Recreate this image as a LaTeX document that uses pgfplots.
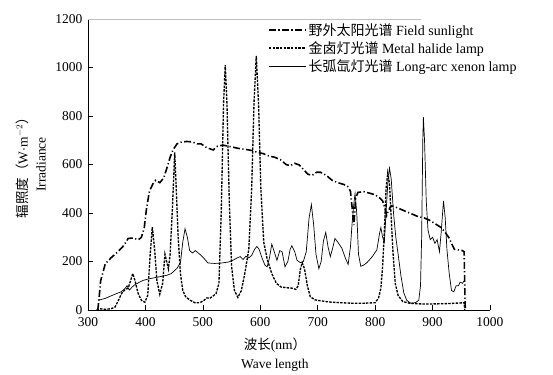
\documentclass[border=0pt]{standalone}
\usepackage{pgfplots}
\pgfplotsset{compat=1.18}
\usepackage{fontspec}
\setmainfont{Liberation Serif}
\newfontfamily\cjk{Noto Sans CJK SC}

% Spectral irradiance of the three light sources (nm, W m^-2)
\pgfplotstableread{
x y
317 0
319 40
322 120
330 190
340 215
352 240
362 265
370 295
378 297
388 290
393 300
398 340
402 420
407 490
413 520
418 535
425 525
432 545
438 590
443 630
448 660
455 685
462 692
472 695
482 693
490 685
497 685
505 672
512 665
518 660
525 675
535 680
545 675
555 670
565 665
575 662
585 658
595 650
605 645
615 635
625 630
635 620
645 600
652 595
660 605
668 598
675 580
683 560
690 555
698 568
705 568
715 555
725 535
735 525
745 518
752 510
757 490
760 420
763 350
766 460
770 485
780 488
790 482
800 475
808 462
813 450
817 420
820 390
823 410
828 430
835 425
845 415
855 405
865 395
875 385
885 380
895 370
905 355
915 340
922 320
928 300
934 270
938 250
945 248
952 245
955 240
956 100
957 0
}\sunlight

\pgfplotstableread{
x y
315 0
320 5
330 3
340 5
347 12
353 40
359 70
365 85
370 90
374 120
378 150
382 120
387 70
393 40
399 32
404 60
408 220
412 342
416 250
420 120
425 65
430 110
434 230
437 200
440 170
443 230
447 420
451 650
454 480
457 300
461 150
465 80
470 55
478 40
486 30
495 30
502 40
507 50
512 48
518 58
523 68
528 110
532 400
536 850
539 1010
542 850
546 450
550 180
555 80
561 52
567 80
573 150
580 250
585 500
589 850
593 1048
597 850
601 500
606 280
612 210
620 150
628 110
636 95
645 92
655 90
662 85
666 100
670 170
673 195
677 170
682 100
687 55
695 42
705 38
720 33
740 30
760 28
780 28
800 30
806 50
810 90
813 180
816 320
819 500
822 565
825 520
828 380
831 240
835 110
840 60
848 35
860 28
880 25
900 25
920 26
940 28
955 30
956 0
}\halide

\pgfplotstableread{
x y
318 40
330 48
340 58
350 68
358 75
365 90
368 100
372 82
377 95
382 105
390 115
396 122
405 128
420 135
437 143
445 150
455 172
461 195
465 280
469 335
473 300
477 245
482 235
487 245
492 235
497 225
503 210
509 194
520 192
530 193
545 198
553 206
560 215
565 220
570 208
575 222
580 215
585 225
590 250
594 262
598 250
603 215
608 185
612 178
616 215
620 272
625 235
629 205
634 245
638 240
643 178
648 200
652 250
655 265
660 240
664 205
670 195
675 200
680 240
685 380
689 435
693 350
697 230
702 170
706 200
710 285
714 320
718 260
722 220
726 255
730 295
735 280
742 255
748 215
753 188
757 260
760 360
763 440
765 480
768 400
771 230
775 180
780 185
786 196
795 220
803 248
808 320
810 340
813 300
816 280
819 400
822 520
825 585
828 540
832 400
836 300
840 230
845 140
850 70
855 40
862 28
870 30
876 40
879 100
881 300
883 700
884 795
886 700
889 450
892 330
896 290
900 300
904 275
908 290
912 240
915 320
919 450
922 380
925 250
929 150
933 80
937 75
941 100
945 100
948 115
952 110
955 120
}\xenon

\begin{document}
\begin{tikzpicture}
\path[use as bounding box] (-88bp,-65bp) rectangle (465bp,310bp);
\begin{axis}[
  at={(0,0)}, anchor=south west,
  scale only axis, width=402bp, height=291bp,
  xmin=300, xmax=1000, ymin=0, ymax=1200,
  axis x line=bottom, axis y line=left,
  axis line style={-, line width=0.6pt},
  xtick={300,400,...,1000}, ytick={0,200,...,1200},
  tick align=inside, major tick length=5bp,
  tick style={line width=0.6pt, black},
  /pgf/number format/assume math mode=true,
  /pgf/number format/set thousands separator={},
  ticklabel style={font=\fontsize{13.5bp}{15bp}\selectfont},
  xticklabel style={yshift=-4bp},
  yticklabel style={xshift=-2bp},
  xlabel={{\cjk 波长}(nm{\cjk ）}\\Wave length},
  xlabel style={align=center, font=\fontsize{13.5bp}{19bp}\selectfont,
    at={(axis description cs:0.465,-0.155)}, anchor=center},
  ylabel={{\cjk 辐照度（}W$\cdot$m$^{-2}${\cjk ）}\\Irradiance},
  ylabel style={align=center, font=\fontsize{13.5bp}{18bp}\selectfont,
    at={(axis description cs:-0.142,0.5)}, anchor=center},
  legend style={draw=none, fill=none, at={(axis description cs:0.445,0.995)},
    anchor=north west, font=\fontsize{14bp}{16bp}\selectfont,
    row sep=0.5bp, inner sep=1pt},
  legend cell align=left,
  legend image code/.code={\draw[#1] (0cm,0cm) -- (1.3cm,0cm);},
  clip=false,
]
\draw[gray!50, line width=0.6pt] (axis cs:300,1200) -- (axis cs:880,1200);
\addplot[black, line width=1.6pt, dash pattern=on 7pt off 2.5pt on 1.2pt off 2.5pt] table {\sunlight};
\addlegendentry{{\cjk 野外太阳光谱} Field sunlight}
\addplot[black, line width=1.35pt, dash pattern=on 2.5pt off 1.2pt] table {\halide};
\addlegendentry{{\cjk 金卤灯光谱} Metal halide lamp}
\addplot[black, line width=0.7pt] table {\xenon};
\addlegendentry{{\cjk 长弧氙灯光谱} Long-arc xenon lamp}
\end{axis}
\end{tikzpicture}
\end{document}
